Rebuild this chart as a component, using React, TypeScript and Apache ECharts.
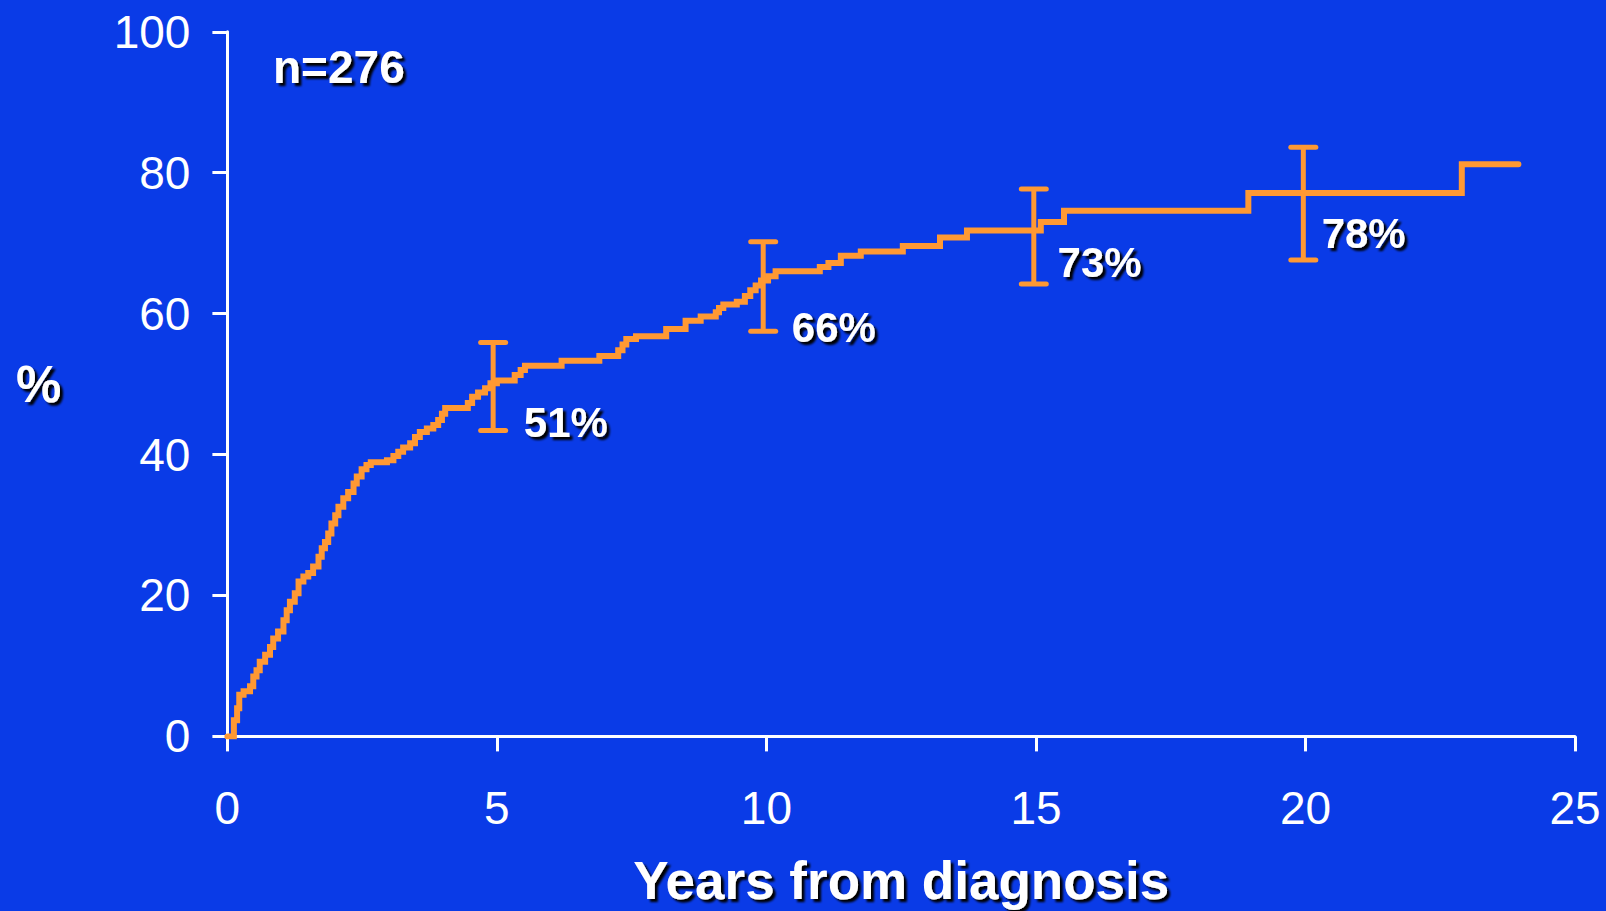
import React, { useEffect, useRef } from "react";
import * as echarts from "echarts";

// Kaplan-Meier style cumulative curve (years, %), value holds from that time on
const kmYears = [
  0, 0.12, 0.18, 0.22, 0.3, 0.42, 0.48, 0.54, 0.6, 0.7, 0.79, 0.85, 0.94, 1.04, 1.1, 1.16,
  1.25, 1.32, 1.41, 1.5, 1.59, 1.69, 1.75, 1.81, 1.87, 1.93, 2.0, 2.06, 2.15, 2.24, 2.34,
  2.4, 2.49, 2.58, 2.66, 2.96, 3.08, 3.17, 3.26, 3.39, 3.48, 3.57, 3.7, 3.82, 3.91, 3.98,
  4.04, 4.46, 4.54, 4.65, 4.78, 4.88, 5.0, 5.33, 5.44, 5.52, 6.2, 6.9, 7.25, 7.33, 7.4,
  7.58, 8.14, 8.5, 8.78, 9.06, 9.12, 9.2, 9.45, 9.6, 9.7, 9.8, 9.9, 10.03, 10.17, 10.99,
  11.15, 11.38, 11.75, 12.53, 13.22, 13.72, 15.09, 15.52, 18.94, 22.9, 23.95,
];
const kmPercent = [
  0, 2.3, 4.0, 5.9, 6.4, 7.1, 8.5, 9.4, 10.6, 11.6, 12.7, 13.9, 14.9, 16.5, 17.9, 19.1,
  20.3, 22.0, 22.7, 23.2, 24.1, 25.5, 26.7, 27.6, 28.8, 30.2, 31.4, 32.6, 33.8, 34.7, 35.9,
  36.9, 37.9, 38.5, 38.9, 39.2, 39.8, 40.4, 41.0, 41.6, 42.5, 43.2, 43.7, 44.2, 44.9, 45.8,
  46.6, 47.3, 48.2, 48.8, 49.4, 50.1, 50.5, 51.3, 52.0, 52.6, 53.3, 54.0, 54.8, 55.6, 56.4,
  56.8, 57.8, 59.0, 59.6, 60.2, 60.8, 61.3, 61.7, 62.5, 63.3, 64.0, 64.7, 65.3, 66.0, 66.6,
  67.2, 68.2, 68.8, 69.6, 70.8, 71.8, 73.0, 74.6, 77.1, 81.2, 81.2,
];

// Confidence intervals
const ciYears = [4.93, 9.94, 14.96, 19.96];
const ciLow = [43.4, 57.5, 64.2, 67.6];
const ciHigh = [55.9, 70.2, 77.7, 83.6];

// Annotations
const pctText = ["51%", "66%", "73%", "78%"];
const pctYears = [5.5, 10.47, 15.4, 20.3];
const pctValues = [44.5, 58.0, 67.2, 71.4];

const sampleText = "n=276";
const xTitle = "Years from diagnosis";
const yTitle = "%";

const BG = "#0A3BE7";
const ORANGE = "#FF9933";
const FONT = 'Arial, "Liberation Sans", Helvetica, sans-serif';
const shadow = {
  textShadowColor: "#000000",
  textShadowOffsetX: 3,
  textShadowOffsetY: 3,
  textShadowBlur: 2,
};

export default function App() {
  const ref = useRef<HTMLDivElement>(null);

  useEffect(() => {
    if (!ref.current) return;
    const chart = echarts.init(ref.current, null, { renderer: "svg" });
    const kmData = kmYears.map((t, i) => [t, kmPercent[i]]);
    const ciData = ciYears.map((t, i) => [t, ciLow[i], ciHigh[i]]);
    const pctData = pctText.map((s, i) => ({ name: s, value: [pctYears[i], pctValues[i]] }));

    chart.setOption({
      animation: false,
      backgroundColor: BG,
      title: {
        text: sampleText,
        left: 273,
        top: 44,
        padding: 0,
        textStyle: {
          color: "#fff",
          fontFamily: FONT,
          fontWeight: "bold",
          fontSize: 46,
          ...shadow,
        },
      },
      grid: {
        left: 227.4,
        right: 31,
        top: 31.75,
        bottom: 174.6,
        containLabel: false,
        outerBoundsMode: "none",
      },
      xAxis: {
        type: "value",
        min: 0,
        max: 25,
        interval: 5,
        name: xTitle,
        nameLocation: "middle",
        nameGap: 118,
        nameTextStyle: {
          color: "#fff",
          fontFamily: FONT,
          fontWeight: "bold",
          fontSize: 53,
          ...shadow,
        },
        axisLine: { show: true, onZero: false, lineStyle: { color: "#fff", width: 3 } },
        axisTick: { show: true, inside: false, length: 15, lineStyle: { color: "#fff", width: 3 } },
        axisLabel: { color: "#fff", fontFamily: FONT, fontSize: 46, margin: 49 },
        splitLine: { show: false },
      },
      yAxis: {
        type: "value",
        min: 0,
        max: 100,
        interval: 20,
        name: yTitle,
        nameLocation: "middle",
        nameRotate: 0,
        nameGap: 166,
        nameTextStyle: {
          color: "#fff",
          fontFamily: FONT,
          fontWeight: "bold",
          fontSize: 51,
          ...shadow,
        },
        axisLine: { show: true, onZero: false, lineStyle: { color: "#fff", width: 3 } },
        axisTick: { show: true, inside: false, length: 15, lineStyle: { color: "#fff", width: 3 } },
        axisLabel: { color: "#fff", fontFamily: FONT, fontSize: 46, margin: 37 },
        splitLine: { show: false },
      },
      series: [
        {
          type: "line",
          data: kmData,
          step: "end",
          showSymbol: false,
          symbol: "none",
          lineStyle: { color: ORANGE, width: 6, cap: "round", join: "miter" },
          z: 3,
        },
        {
          type: "custom",
          data: ciData,
          z: 4,
          renderItem: (params: any, api: any) => {
            const x = api.value(0);
            const top = api.coord([x, api.value(2)]);
            const bot = api.coord([x, api.value(1)]);
            const half = 12.5;
            const st = { stroke: ORANGE, lineWidth: 5, lineCap: "round" };
            return {
              type: "group",
              children: [
                { type: "line", shape: { x1: top[0], y1: top[1], x2: bot[0], y2: bot[1] }, style: { stroke: ORANGE, lineWidth: 5 } },
                { type: "line", shape: { x1: top[0] - half, y1: top[1], x2: top[0] + half, y2: top[1] }, style: st },
                { type: "line", shape: { x1: bot[0] - half, y1: bot[1], x2: bot[0] + half, y2: bot[1] }, style: st },
              ],
            };
          },
        },
        {
          type: "scatter",
          data: pctData,
          symbolSize: 0,
          itemStyle: { color: "transparent", opacity: 1 },
          z: 5,
          label: {
            show: true,
            position: "right",
            distance: 0,
            opacity: 1,
            formatter: (p: any) => p.name,
            color: "#ffffff",
            fontFamily: FONT,
            fontWeight: "bold",
            fontSize: 42,
            ...shadow,
          },
        },
      ],
    });
    return () => chart.dispose();
  }, []);

  return (
    <div
      ref={ref}
      style={{ position: "fixed", left: 0, top: 0, width: 1606, height: 911, background: BG }}
    />
  );
}
